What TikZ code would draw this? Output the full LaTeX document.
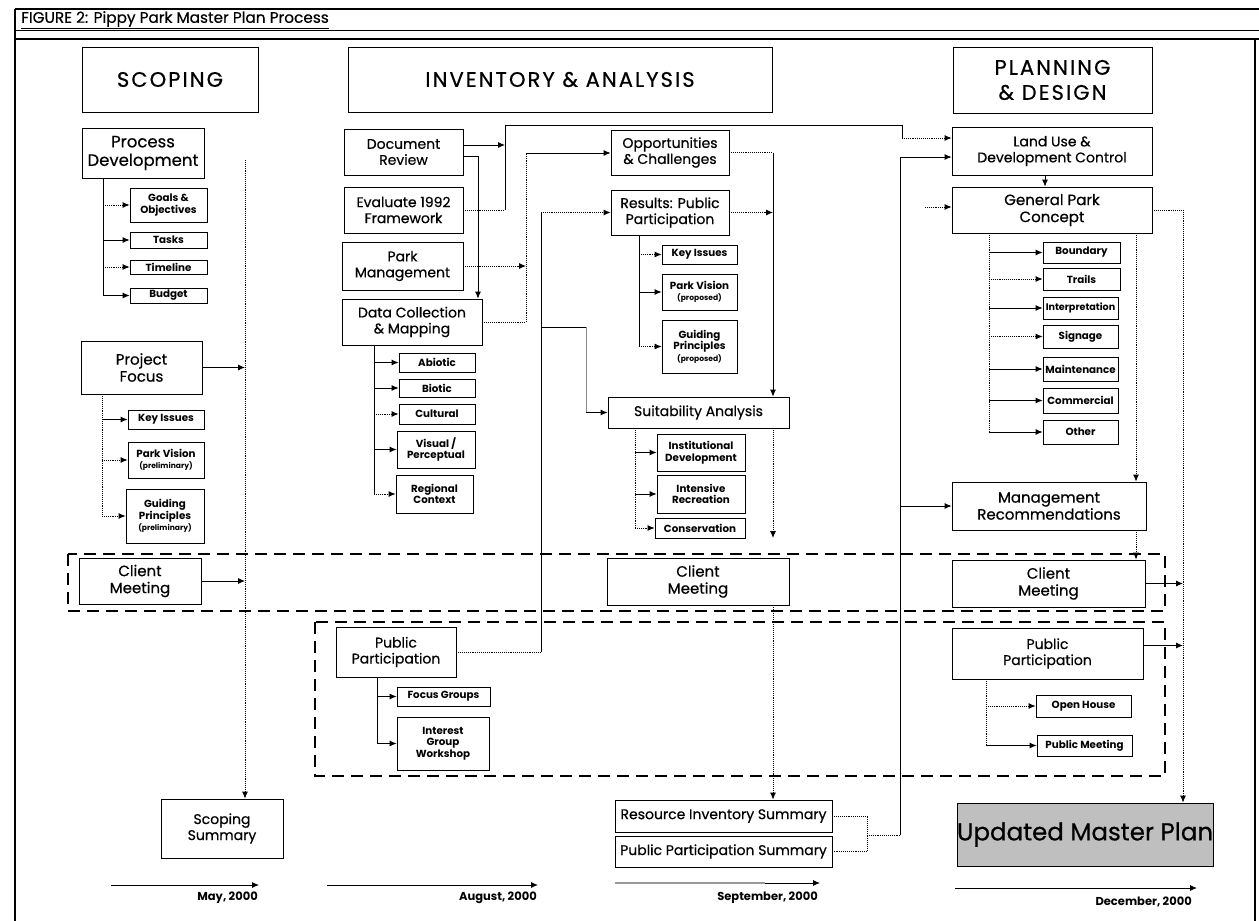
\documentclass[tikz,border=0pt]{standalone}
\usepackage{fontspec}
\setmainfont{Poppins}
\newfontfamily\mf{Poppins}[FakeBold=0.5]
\newfontfamily\hf{Poppins}[FakeBold=0.6, LetterSpace=10]
\newcommand\mytinyfont{\fontsize{7.6}{9}\selectfont}
\usetikzlibrary{arrows.meta}
\begin{document}
\begin{tikzpicture}[x=1pt,y=-1pt,
  bx/.style={draw, line width=0.7pt, inner sep=0pt, align=center, font=\mf\fontsize{14}{16}\selectfont},
  hd/.style={bx, font=\hf\fontsize{21}{25}\selectfont},
  sm/.style={bx, font=\bfseries\fontsize{10.3}{11.5}\selectfont},
  arr/.style={-{Latex[length=7pt,width=6pt]}, line width=0.9pt},
  dar/.style={arr, densely dotted},
  ln/.style={line width=0.9pt},
  dln/.style={ln, densely dotted},
  band/.style={dash pattern=on 12pt off 7pt, line width=1.8pt},
  tl/.style={font=\bfseries\fontsize{11.5}{13}\selectfont, anchor=north east, inner sep=0pt}]
\useasboundingbox (0,0) rectangle (1259,921);
% frame
\draw[line width=2pt] (15,9) -- (15,921);
\draw[line width=1.5pt] (15,9) -- (1259,9);
\draw[line width=0.8pt] (15,30) -- (1259,30);
\draw[line width=1.5pt] (15,39) -- (1259,39);
\draw[line width=2pt] (1255,39) -- (1255,921);
\node[anchor=west, inner sep=0pt, font=\mf\fontsize{15.3}{17}\selectfont] (title) at (21,20) {\underline{FIGURE 2: Pippy Park Master Plan Process}};
% bands
\draw[band] (68,554) rectangle (1165,611);
\draw[band] (315,622) rectangle (1165,776);
% headers
\node[hd, minimum width=176pt, minimum height=65pt] (scop) at (170,79.5) {SCOPING};
\node[hd, minimum width=424pt, minimum height=65pt] (inv) at (560,79.5) {INVENTORY \& ANALYSIS};
\node[hd, minimum width=199pt, minimum height=66pt] (plan) at (1052.5,80) {PLANNING\\\& DESIGN};
% scoping column
\node[bx, minimum width=122pt, minimum height=50pt, font=\mf\fontsize{16.5}{18.5}\selectfont] (pd) at (143,153) {Process\\Development};
\node[sm, minimum width=77pt, minimum height=34pt] (goals) at (168.5,205) {Goals \&\\Objectives};
\node[sm, minimum width=77pt, minimum height=16pt] (tasks) at (168.5,240) {Tasks};
\node[sm, minimum width=77pt, minimum height=14pt] (tline) at (168.5,267) {Timeline};
\node[sm, minimum width=77pt, minimum height=15pt] (budget) at (168.5,295.5) {Budget};
\node[bx, minimum width=121pt, minimum height=53pt, font=\mf\fontsize{15}{17}\selectfont] (pf) at (141.5,367.5) {Project\\Focus};
\node[sm, minimum width=76pt, minimum height=19pt] (ki1) at (166,419.5) {Key Issues};
\node[sm, minimum width=76pt, minimum height=36pt] (pv1) at (166,460) {Park Vision\\{\mytinyfont (preliminary)}};
\node[sm, minimum width=78pt, minimum height=54pt] (gp1) at (165,516) {Guiding\\Principles\\{\mytinyfont (preliminary)}};
\node[bx, minimum width=122pt, minimum height=46pt, font=\mf\fontsize{15}{17}\selectfont] (cm1) at (140,581) {Client\\Meeting};
\node[bx, minimum width=122pt, minimum height=59pt] (ss) at (222,828.5) {Scoping\\Summary};
% inventory column
\node[bx, minimum width=119pt, minimum height=46pt] (dr) at (403.5,152) {Document\\Review};
\node[bx, minimum width=119pt, minimum height=46pt] (ev) at (403.5,210) {Evaluate 1992\\Framework};
\node[bx, minimum width=121pt, minimum height=48pt] (pm) at (402.5,266) {Park\\Management};
\node[bx, minimum width=140pt, minimum height=46pt] (dc) at (412,322) {Data Collection\\\& Mapping};
\node[sm, minimum width=76pt, minimum height=19pt] (abi) at (437,362.5) {Abiotic};
\node[sm, minimum width=76pt, minimum height=18pt] (bio) at (437,388) {Biotic};
\node[sm, minimum width=76pt, minimum height=20pt] (cul) at (437,414) {Cultural};
\node[sm, minimum width=78pt, minimum height=37pt] (vis) at (436,449.5) {Visual /\\Perceptual};
\node[sm, minimum width=77pt, minimum height=38pt] (reg) at (434.5,494) {Regional\\Context};
\node[bx, minimum width=120pt, minimum height=50pt] (pp2) at (396,652) {Public\\Participation};
\node[sm, minimum width=93pt, minimum height=19pt] (fg) at (443.5,696.5) {Focus Groups};
\node[sm, minimum width=92pt, minimum height=53pt] (igw) at (443,743.5) {Interest\\Group\\Workshop};
% analysis column
\node[bx, minimum width=118pt, minimum height=45pt] (oc) at (670,152.5) {Opportunities\\\& Challenges};
\node[bx, minimum width=118pt, minimum height=45pt] (rpp) at (670,212.5) {Results: Public\\Participation};
\node[sm, minimum width=75pt, minimum height=19pt] (ki2) at (699.5,254.5) {Key Issues};
\node[sm, minimum width=75pt, minimum height=36pt] (pv2) at (699.5,292) {Park Vision\\{\mytinyfont (proposed)}};
\node[sm, minimum width=75pt, minimum height=53pt] (gp2) at (699.5,346.5) {Guiding\\Principles\\{\mytinyfont (proposed)}};
\node[bx, minimum width=181pt, minimum height=31pt] (sa) at (698.5,412.5) {Suitability Analysis};
\node[sm, minimum width=88pt, minimum height=37pt] (ind) at (701,452.5) {Institutional\\Development};
\node[sm, minimum width=88pt, minimum height=38pt] (ir) at (701,494) {Intensive\\Recreation};
\node[sm, minimum width=90pt, minimum height=20pt] (con) at (700,528) {Conservation};
\node[bx, minimum width=182pt, minimum height=47pt, font=\mf\fontsize{15}{17}\selectfont] (cm2) at (698,581.5) {Client\\Meeting};
\node[bx, minimum width=217pt, minimum height=32pt] (ris) at (723.5,816) {Resource Inventory Summary};
\node[bx, minimum width=217pt, minimum height=31pt] (pps) at (723.5,851.5) {Public Participation Summary};
% planning column
\node[bx, minimum width=200pt, minimum height=48pt] (lu) at (1052,151) {Land Use \&\\Development Control};
\node[bx, minimum width=200pt, minimum height=46pt, font=\mf\fontsize{15}{17}\selectfont] (gpc) at (1052,210) {General Park\\Concept};
\node[sm, minimum width=77pt, minimum height=21pt] (bnd) at (1081.5,252.5) {Boundary};
\node[sm, minimum width=77pt, minimum height=22pt] (tr) at (1081.5,279) {Trails};
\node[sm, minimum width=75pt, minimum height=22pt, font=\bfseries\fontsize{9.6}{11}\selectfont] (intp) at (1080.5,308) {Interpretation};
\node[sm, minimum width=75pt, minimum height=23pt] (sig) at (1080.5,336.5) {Signage};
\node[sm, minimum width=75pt, minimum height=24pt] (mnt) at (1080.5,369) {Maintenance};
\node[sm, minimum width=75pt, minimum height=25pt] (com) at (1080.5,400.5) {Commercial};
\node[sm, minimum width=75pt, minimum height=24pt] (oth) at (1080.5,432) {Other};
\node[bx, minimum width=194pt, minimum height=48pt, font=\mf\fontsize{15}{17}\selectfont] (mr) at (1049,506) {Management\\Recommendations};
\node[bx, minimum width=193pt, minimum height=47pt, font=\mf\fontsize{15}{17}\selectfont] (cm3) at (1048.5,583.5) {Client\\Meeting};
\node[bx, minimum width=191pt, minimum height=51pt] (pp3) at (1047.5,653.5) {Public\\Participation};
\node[sm, minimum width=95pt, minimum height=22pt] (oh) at (1083.5,706) {Open House};
\node[sm, minimum width=95pt, minimum height=21pt] (pmt) at (1084.5,745.5) {Public Meeting};
\node[bx, fill=black!25, minimum width=256pt, minimum height=63pt, font=\mf\fontsize{24.5}{28}\selectfont] (ump) at (1085,834.5) {Updated Master Plan};
% coordinates
\coordinate (sp1) at (103,0);
\coordinate (sp2) at (102,0);
\coordinate (lt) at (245,160);
\coordinate (b1) at (505,125);
\coordinate (k1) at (902,138);
\coordinate (k2) at (478,0);
\coordinate (b2) at (526,153);
\coordinate (b3) at (541,0);
\coordinate (k3) at (586,327);
\coordinate (sp3) at (374,0);
\coordinate (sp5) at (377,0);
\coordinate (sp4) at (639,0);
\coordinate (b4) at (773,0);
\coordinate (sp6) at (635,0);
\coordinate (k5) at (773,538);
\coordinate (k6) at (867,0);
\coordinate (k7) at (900,835);
\coordinate (k8) at (1045,0);
\coordinate (k9) at (925,207);
\coordinate (sp7) at (989,0);
\coordinate (k10) at (1183,0);
\coordinate (k11) at (1136,0);
\coordinate (sp8) at (986,0);
% scoping connectors
\draw[ln] (pd.south -| sp1) -- (budget.west -| sp1);
\draw[dar] (goals.west -| sp1) -- (goals.west);
\draw[arr] (tasks.west -| sp1) -- (tasks.west);
\draw[dar] (tline.west -| sp1) -- (tline.west);
\draw[arr] (budget.west -| sp1) -- (budget.west);
\draw[dln] (pf.south -| sp2) -- (gp1.west -| sp2);
\draw[arr] (ki1.west -| sp2) -- (ki1.west);
\draw[dar] (pv1.west -| sp2) -- (pv1.west);
\draw[dar] (gp1.west -| sp2) -- (gp1.west);
\draw[dar] (lt) -- (lt |- ss.north);
\draw[arr] (pf.east) -- (pf.east -| lt);
\draw[arr] (cm1.east) -- (cm1.east -| lt);
% inventory connectors
\draw[arr] ([yshift=7pt]dr.east) -- ([yshift=7pt]dr.east -| b1);
\draw[ln] (ev.east -| b1) -- (b1) -- (k1 |- b1) -- (k1);
\draw[dar] (k1) -- (k1 -| lu.west);
\draw[dln] (ev.east) -- (ev.east -| b1);
\draw[arr] ([yshift=-4pt]dr.east) -| (k2 |- dc.north);
\draw[dar] (pm.east) -- (pm.east -| b2);
\draw[dln] (dc.east) -- (dc.east -| b2) -- (b2);
\draw[arr] (b2) -- (b2 -| oc.west);
\draw[dln] (pp2.east) -- (pp2.east -| b3);
\draw[ln] (pp2.east -| b3) -- (b3 |- rpp.west);
\draw[dar] (b3 |- rpp.west) -- (rpp.west);
\draw[ln] (k3 -| b3) -- (k3);
\draw[ln, black!45] (k3) -- (k3 |- sa.west);
\draw[arr] (k3 |- sa.west) -- (sa.west);
\draw[ln] (dc.south -| sp3) -- (reg.west -| sp3);
\draw[arr] (abi.west -| sp3) -- (abi.west);
\draw[arr] (bio.west -| sp3) -- (bio.west);
\draw[dar] (cul.west -| sp3) -- (cul.west);
\draw[arr] (vis.west -| sp3) -- (vis.west);
\draw[dar] (reg.west -| sp3) -- (reg.west);
\draw[ln] (pp2.south -| sp5) -- (igw.west -| sp5);
\draw[arr] (fg.west -| sp5) -- (fg.west);
\draw[arr] (igw.west -| sp5) -- (igw.west);
% analysis connectors
\draw[ln] (rpp.south -| sp4) -- (gp2.west -| sp4);
\draw[dar] (ki2.west -| sp4) -- (ki2.west);
\draw[arr] (pv2.west -| sp4) -- (pv2.west);
\draw[dar] (gp2.west -| sp4) -- (gp2.west);
\draw[dln] (oc.east) -- (oc.east -| b4);
\draw[arr] (oc.east -| b4) -- (b4 |- sa.north);
\draw[dar] (rpp.east) -- (rpp.east -| b4);
\draw[dln] (sa.south -| sp6) -- (con.west -| sp6);
\draw[arr] (ind.west -| sp6) -- (ind.west);
\draw[arr] (ir.west -| sp6) -- (ir.west);
\draw[dar] (con.west -| sp6) -- (con.west);
\draw[dar] (sa.south -| b4) -- (k5);
\draw[dar] (cm2.south -| b4) -- (ris.north -| b4);
\draw[dln] (ris.east) -- (ris.east -| k6) -- (pps.east -| k6) -- (pps.east);
\draw[dln] (k6 |- k7) -- (k7);
\draw[ln] (k7) -- ([yshift=-6pt]lu.west -| k7);
\draw[arr] (k7 |- mr.west) -- (mr.west);
\draw[arr] ([yshift=-6pt]lu.west -| k7) -- ([yshift=-6pt]lu.west);
% planning connectors
\draw[arr] (lu.south -| k8) -- (gpc.north -| k8);
\draw[dar] (k9) -- (k9 -| gpc.west);
\draw[dln] (gpc.south -| sp7) -- (oth.west -| sp7);
\draw[arr] (bnd.west -| sp7) -- (bnd.west);
\draw[dar] (tr.west -| sp7) -- (tr.west);
\draw[arr] (intp.west -| sp7) -- (intp.west);
\draw[dar] (sig.west -| sp7) -- (sig.west);
\draw[arr] (mnt.west -| sp7) -- (mnt.west);
\draw[arr] (com.west -| sp7) -- (com.west);
\draw[arr] (oth.west -| sp7) -- (oth.west);
\draw[dar] (gpc.south -| k11) -- (mr.north -| k11);
\draw[dar] (mr.south -| k11) -- (cm3.north -| k11);
\draw[dln] (gpc.east) -- (gpc.east -| k10);
\draw[dar] (gpc.east -| k10) -- (k10 |- ump.north);
\draw[arr] (cm3.east) -- (cm3.east -| k10);
\draw[arr] ([yshift=8pt]pp3.east) -- ([yshift=8pt]pp3.east -| k10);
\draw[dln] (pp3.south -| sp8) -- (pmt.west -| sp8);
\draw[dar] (oh.west -| sp8) -- (oh.west);
\draw[arr] (pmt.west -| sp8) -- (pmt.west);
% timelines
\coordinate (t1a) at (111,885); \coordinate (t1b) at (259,885);
\coordinate (t2a) at (327,885); \coordinate (t2b) at (538,885);
\coordinate (t3a) at (615,883); \coordinate (t3m) at (765,883); \coordinate (t3b) at (820,883);
\coordinate (t4a) at (955,888); \coordinate (t4b) at (1197,888);
\draw[arr] (t1a) -- (t1b);
\draw[arr] (t2a) -- (t2b);
\draw[line width=2.2pt, black!40] (t3a) -- (t3m);
\draw[arr] (t3m) -- (t3b);
\draw[arr] (t4a) -- (t4b);
\node[tl] (l1) at (258,892) {May, 2000};
\node[tl] (l2) at (537,892) {August, 2000};
\node[tl] (l3) at (818,892) {September, 2000};
\node[tl] (l4) at (1192,897) {December, 2000};
\end{tikzpicture}
\end{document}
